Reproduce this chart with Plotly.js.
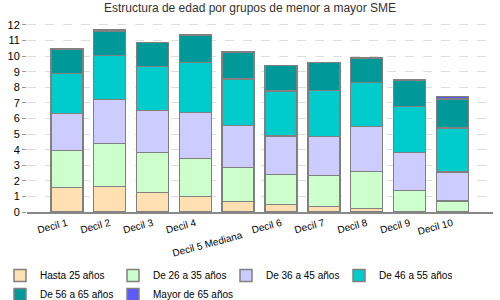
<!DOCTYPE html>
<html>
<head>
<meta charset="utf-8">
<script src="https://cdn.plot.ly/plotly-3.0.1.min.js"></script>
<style>
  body { margin: 0; background: #fff; }
  #chart { width: 500px; height: 300px; }
</style>
</head>
<body>
<div id="chart"></div>
<script>
let deciles = ['Decil 1', 'Decil 2', 'Decil 3', 'Decil 4', 'Decil 5 Mediana', 'Decil 6', 'Decil 7', 'Decil 8', 'Decil 9', 'Decil 10']
let hasta25 = [1.58, 1.65, 1.26, 1.00, 0.69, 0.49, 0.34, 0.24, 0.00, 0.00]
let de26a35 = [2.37, 2.75, 2.57, 2.44, 2.18, 1.93, 1.99, 2.37, 1.39, 0.72]
let de36a45 = [2.38, 2.82, 2.69, 2.95, 2.69, 2.47, 2.52, 2.88, 2.44, 1.86]
let de46a55 = [2.56, 2.82, 2.82, 3.21, 2.99, 2.87, 2.95, 2.82, 2.95, 2.82]
let de56a65 = [1.56, 1.58, 1.54, 1.77, 1.73, 1.64, 1.80, 1.58, 1.70, 1.86]
let mayor65 = [0.00, 0.08, 0.00, 0.00, 0.00, 0.00, 0.00, 0.00, 0.00, 0.15]

let seriesNames = ['Hasta 25 años', 'De 26 a 35 años', 'De 36 a 45 años', 'De 46 a 55 años', 'De 56 a 65 años', 'Mayor de 65 años']
let seriesValues = [hasta25, de26a35, de36a45, de46a55, de56a65, mayor65]
let colors = ['#ffe0b3', '#ccffcc', '#ccccff', '#00cccc', '#009999', '#5a5aff']

// the median label sits a line lower in the original
let tickText = deciles.map(d => d.indexOf('Mediana') > -1 ? '<br>' + d : d)

let traces = seriesNames.map((name, i) => ({
  type: 'bar',
  name: name,
  x: deciles,
  y: seriesValues[i],
  marker: { color: colors[i], line: { color: '#808080', width: 1.5 } },
  hoverinfo: 'x+y+name'
}))

Plotly.newPlot('chart', traces, {
  width: 500,
  height: 300,
  barmode: 'stack',
  bargap: 0.25,
  paper_bgcolor: '#fff',
  plot_bgcolor: '#fff',
  margin: { l: 27, r: 7, t: 20, b: 88 },
  font: { family: 'Liberation Sans, Arial, sans-serif', size: 11, color: '#000' },
  title: {
    text: 'Estructura de edad por grupos de menor a mayor SME',
    font: { size: 12, color: '#333' },
    x: 0.5,
    xanchor: 'center',
    y: 0.975,
    yanchor: 'middle'
  },
  xaxis: {
    range: [-0.93, 9.95],
    tickvals: deciles,
    ticktext: tickText,
    tickangle: -15,
    tickfont: { size: 10 },
    showline: true,
    linecolor: '#888',
    linewidth: 1.5,
    ticks: '',
    showgrid: false,
    automargin: false
  },
  yaxis: {
    range: [0, 12.32],
    dtick: 1,
    ticks: 'outside',
    ticklen: 4,
    tickcolor: '#999',
    gridcolor: '#dddddd',
    griddash: 'dash',
    zeroline: false,
    showline: false,
    automargin: false
  },
  legend: {
    orientation: 'h',
    xref: 'container',
    yref: 'container',
    x: 0,
    xanchor: 'left',
    y: 0.13,
    yanchor: 'top',
    traceorder: 'normal',
    itemwidth: 30,
    entrywidth: 68,
    entrywidthmode: 'pixels',
    font: { size: 10 },
    tracegroupgap: 0
  },
  showlegend: true
}, { displayModeBar: false })
</script>
</body>
</html>
